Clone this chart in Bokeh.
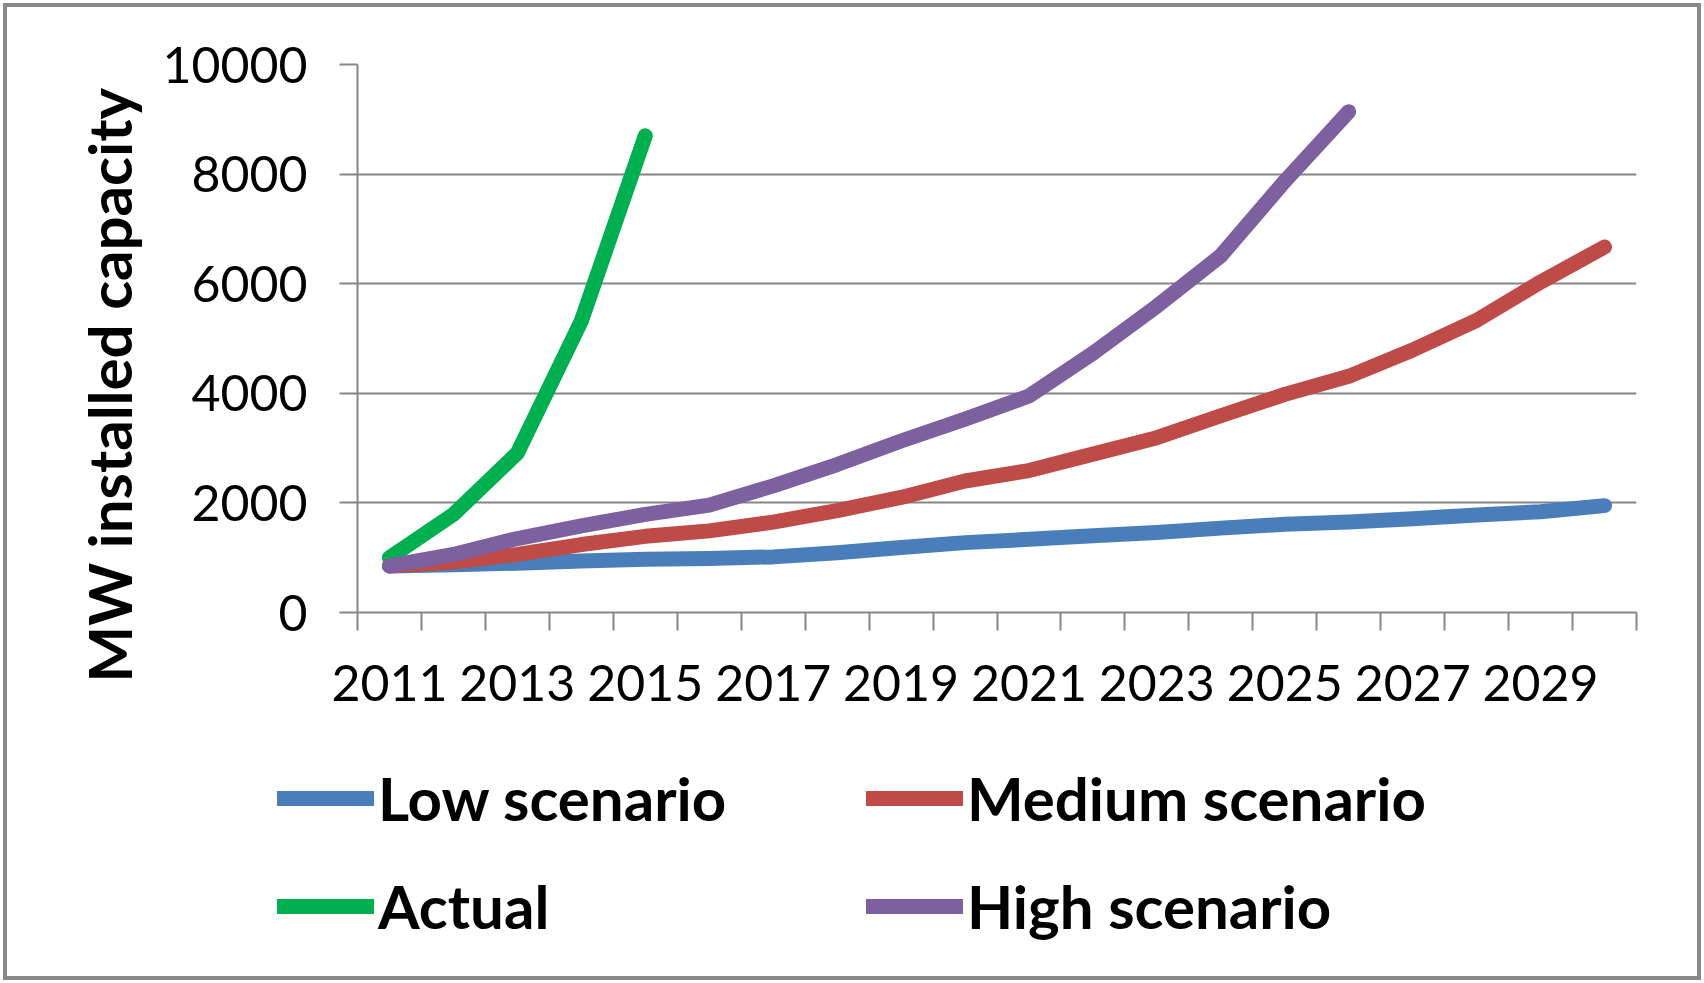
import math
from bokeh.plotting import figure
from bokeh.layouts import column
from bokeh.models import (FixedTicker, Range1d, Legend, LegendItem, Title, Plot)
from bokeh.embed import file_html
from bokeh.resources import INLINE

# ---- data ----
years = list(range(2011, 2031))
low_scenario = [850, 870, 900, 940, 970, 985, 1015, 1090, 1185, 1275,
                1335, 1400, 1460, 1540, 1610, 1650, 1710, 1780, 1840, 1950]
medium_scenario = [850, 920, 1060, 1240, 1390, 1490, 1650, 1860, 2100, 2400,
                   2590, 2890, 3190, 3590, 3980, 4310, 4790, 5330, 6030, 6670]
actual_years = [2011, 2012, 2013, 2014, 2015]
actual = [1000, 1790, 2910, 5320, 8700]
high_years = list(range(2011, 2027))
high_scenario = [850, 1060, 1350, 1580, 1790, 1960, 2310, 2700, 3130, 3530,
                 3950, 4730, 5590, 6510, 7870, 9140]
x_tick_years = [2011, 2013, 2015, 2017, 2019, 2021, 2023, 2025, 2027, 2029]
x_tick_labels = ["2011", "2013", "2015", "2017", "2019", "2021", "2023", "2025", "2027", "2029"]
y_ticks = [0, 2000, 4000, 6000, 8000, 10000]
y_tick_labels = ["0", "2000", "4000", "6000", "8000", "10000"]
y_title = "MW installed capacity"
series_names = ["Low scenario", "Medium scenario", "Actual", "High scenario"]

# ---- styles ----
W, H = 1704, 983
H_MAIN = 740
FL, FR, FT, FB = 357, 1636, 64, 612
GRAY = "#868686"
FONT = "Lato"
COL_LOW, COL_MED, COL_ACT, COL_HIGH = "#4A7EBB", "#BE4B48", "#00B050", "#7D60A0"
LW = 15
LINE_KW = dict(line_width=LW, line_cap="round", line_join="round")
HAS_FRAME_ALIGN = "frame_align" in Plot.properties()

p = figure(width=W, height=H_MAIN, output_backend="svg", toolbar_location=None,
           x_range=Range1d(years[0] - 0.5, years[-1] + 0.5),
           y_range=Range1d(0, 10000),
           min_border_left=FL, min_border_right=W - FR,
           min_border_top=FT, min_border_bottom=H_MAIN - FB)
p.outline_line_color = None
p.background_fill_color = "white"
p.border_fill_alpha = 0
if HAS_FRAME_ALIGN:
    p.frame_align = False

# x axis: labels at odd years, tick marks at category boundaries
boundaries = [y - 0.5 for y in years] + [years[-1] + 0.5]
xa = p.xaxis[0]
xa.ticker = FixedTicker(ticks=x_tick_years, minor_ticks=boundaries)
xa.major_label_overrides = {y: s for y, s in zip(x_tick_years, x_tick_labels)}
xa.major_tick_line_color = None
xa.major_tick_out = 0
xa.major_tick_in = 0
xa.minor_tick_line_color = GRAY
xa.minor_tick_line_width = 2
xa.minor_tick_out = 18
xa.minor_tick_in = 0
xa.axis_line_color = GRAY
xa.axis_line_width = 2
xa.major_label_text_font = FONT
xa.major_label_text_font_size = "50px"
xa.major_label_text_color = "black"
xa.major_label_standoff = 34

ya = p.yaxis[0]
ya.ticker = FixedTicker(ticks=y_ticks, minor_ticks=[])
ya.major_label_overrides = {v: s for v, s in zip(y_ticks, y_tick_labels)}
ya.major_tick_line_color = GRAY
ya.major_tick_line_width = 2
ya.major_tick_out = 18
ya.major_tick_in = 0
ya.minor_tick_line_color = None
ya.axis_line_color = GRAY
ya.axis_line_width = 2
ya.major_label_text_font = FONT
ya.major_label_text_font_size = "50px"
ya.major_label_text_color = "black"
ya.major_label_standoff = 32

p.xgrid.grid_line_color = None
p.ygrid.ticker = FixedTicker(ticks=y_ticks)
p.ygrid.grid_line_color = GRAY
p.ygrid.grid_line_width = 2

p.line(years, low_scenario, line_color=COL_LOW, **LINE_KW)
p.line(years, medium_scenario, line_color=COL_MED, **LINE_KW)
p.line(actual_years, actual, line_color=COL_ACT, **LINE_KW)
p.line(high_years, high_scenario, line_color=COL_HIGH, **LINE_KW)

# y axis title as a side-panel title, starting below the frame bottom
p.add_layout(Title(text=y_title, align="left", offset=-70, standoff=30,
                   text_font=FONT, text_font_size="60px", text_font_style="bold",
                   text_color="black"), "left")

# ---- legend strip below the chart ----
H_LEG = H - H_MAIN
pl = figure(width=W, height=H_LEG, output_backend="svg", toolbar_location=None,
            x_range=Range1d(0, W), y_range=Range1d(0, H_LEG),
            x_axis_type=None, y_axis_type=None,
            min_border_left=0, min_border_right=0, min_border_top=0, min_border_bottom=0)
pl.outline_line_color = None
pl.border_fill_alpha = 0
pl.background_fill_alpha = 0
pl.xgrid.visible = False
pl.ygrid.visible = False
if HAS_FRAME_ALIGN:
    pl.frame_align = False
nan = [float("nan")]
lr_low = pl.line(nan, nan, line_color=COL_LOW, **LINE_KW)
lr_med = pl.line(nan, nan, line_color=COL_MED, **LINE_KW)
lr_act = pl.line(nan, nan, line_color=COL_ACT, **LINE_KW)
lr_high = pl.line(nan, nan, line_color=COL_HIGH, **LINE_KW)

def make_legend(items, x0):
    return Legend(items=items, location=(x0, H - 942), orientation="vertical",
                  glyph_width=97, glyph_height=72, label_height=72, spacing=36,
                  label_standoff=4, padding=0, margin=0,
                  border_line_color=None, background_fill_alpha=0,
                  label_text_font=FONT, label_text_font_size="60px",
                  label_text_font_style="bold", label_text_color="black")

pl.add_layout(make_legend([LegendItem(label=series_names[0], renderers=[lr_low]),
                           LegendItem(label=series_names[2], renderers=[lr_act])], 277), "center")
pl.add_layout(make_legend([LegendItem(label=series_names[1], renderers=[lr_med]),
                           LegendItem(label=series_names[3], renderers=[lr_high])], 866), "center")

layout = column(p, pl, spacing=0,
                styles={"outline": "4px solid #898989", "outline-offset": "-7px"})

open("out.html", "w").write(file_html(layout, INLINE))
